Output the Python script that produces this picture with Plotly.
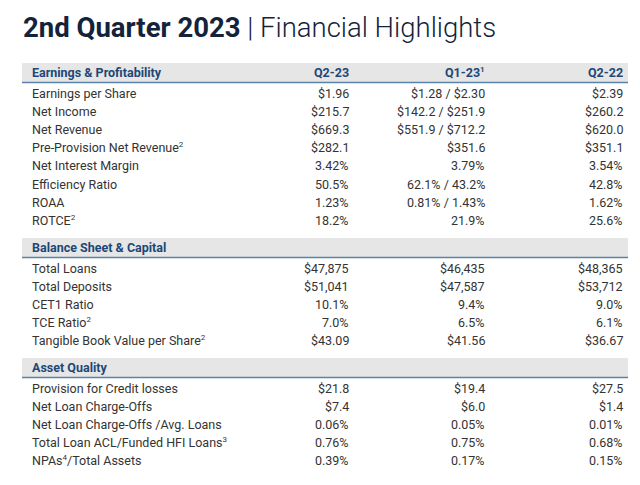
import plotly.graph_objects as go

sections = ["Earnings & Profitability", "Balance Sheet & Capital", "Asset Quality"]
column_headers = ["Q2-23", "Q1-23<sup>1</sup>", "Q2-22"]

labels_1 = ["Earnings per Share", "Net Income", "Net Revenue",
            "Pre-Provision Net Revenue<sup>2</sup>", "Net Interest Margin",
            "Efficiency Ratio", "ROAA", "ROTCE<sup>2</sup>"]
q2_23_1 = ["$1.96", "$215.7", "$669.3", "$282.1", "3.42%", "50.5%", "1.23%", "18.2%"]
q1_23_1 = ["$1.28 / $2.30", "$142.2 / $251.9", "$551.9 / $712.2", "$351.6", "3.79%",
           "62.1% / 43.2%", "0.81% / 1.43%", "21.9%"]
q2_22_1 = ["$2.39", "$260.2", "$620.0", "$351.1", "3.54%", "42.8%", "1.62%", "25.6%"]

labels_2 = ["Total Loans", "Total Deposits", "CET1 Ratio", "TCE Ratio<sup>2</sup>",
            "Tangible Book Value per Share<sup>2</sup>"]
q2_23_2 = ["$47,875", "$51,041", "10.1%", "7.0%", "$43.09"]
q1_23_2 = ["$46,435", "$47,587", "9.4%", "6.5%", "$41.56"]
q2_22_2 = ["$48,365", "$53,712", "9.0%", "6.1%", "$36.67"]

labels_3 = ["Provision for Credit losses", "Net Loan Charge-Offs",
            "Net Loan Charge-Offs /Avg. Loans", "Total Loan ACL/Funded HFI Loans<sup>3</sup>",
            "NPAs<sup>4</sup>/Total Assets"]
q2_23_3 = ["$21.8", "$7.4", "0.06%", "0.76%", "0.39%"]
q1_23_3 = ["$19.4", "$6.0", "0.05%", "0.75%", "0.17%"]
q2_22_3 = ["$27.5", "$1.4", "0.01%", "0.68%", "0.15%"]

blocks = [
    (labels_1, q2_23_1, q1_23_1, q2_22_1),
    (labels_2, q2_23_2, q1_23_2, q2_22_2),
    (labels_3, q2_23_3, q1_23_3, q2_22_3),
]

FONT = "Roboto"
TXT = "#333333"
HDR = "#1d4877"
BAND = "#e6e6e6"
LINE = "#5b82a8"

W, H = 640, 485
left, right = 22, 628
label_x = 30
col_right = [351, 487, 625]
header_tops = [63, 238, 358]
header_h = 19
step = 18.2
FS = 12.5


def small_sup(t):
    return t.replace("<sup>", "<sup><span style='font-size:8px'>").replace("</sup>", "</span></sup>")


fig = go.Figure()
fig.add_trace(go.Scatter(x=[0], y=[0], mode="markers", marker=dict(opacity=0),
                         hoverinfo="skip", showlegend=False))

shapes = []
annotations = []

for si, (labs, c1, c2, c3) in enumerate(blocks):
    top = header_tops[si]
    bot = top + header_h
    shapes.append(dict(type="rect", xref="x", yref="y", x0=left, x1=right, y0=top, y1=bot,
                       fillcolor=BAND, line=dict(width=0), layer="below"))
    shapes.append(dict(type="line", xref="x", yref="y", x0=left, x1=right, y0=bot + 0.5, y1=bot + 0.5,
                       line=dict(color=LINE, width=1.5)))
    hy = top + header_h / 2
    annotations.append(dict(x=label_x, y=hy, xref="x", yref="y", text="<b>" + sections[si] + "</b>",
                            showarrow=False, xanchor="left", yanchor="middle",
                            font=dict(family=FONT, size=FS, color=HDR)))
    if si == 0:
        for ci, ch in enumerate(column_headers):
            annotations.append(dict(x=col_right[ci], y=hy, xref="x", yref="y",
                                    text="<b>" + small_sup(ch) + "</b>",
                                    showarrow=False, xanchor="right", yanchor="middle",
                                    font=dict(family=FONT, size=FS, color=HDR)))
    for ri, lab in enumerate(labs):
        y = bot + 11 + ri * step
        annotations.append(dict(x=label_x, y=y, xref="x", yref="y", text=small_sup(lab), showarrow=False,
                                xanchor="left", yanchor="middle",
                                font=dict(family=FONT, size=FS, color=TXT)))
        for ci, col in enumerate((c1, c2, c3)):
            annotations.append(dict(x=col_right[ci], y=y, xref="x", yref="y", text=col[ri],
                                    showarrow=False, xanchor="right", yanchor="middle",
                                    font=dict(family=FONT, size=FS, color=TXT)))

annotations.append(dict(x=21, y=27, xref="x", yref="y",
                        text="<b>2nd Quarter 2023</b><span style='font-weight:300'> | Financial Highlights</span>",
                        showarrow=False, xanchor="left", yanchor="middle",
                        font=dict(family=FONT, size=27.5, color="#13233b")))

fig.update_layout(
    width=W, height=H, margin=dict(l=0, r=0, t=0, b=0),
    paper_bgcolor="white", plot_bgcolor="white",
    xaxis=dict(range=[0, W], visible=False, fixedrange=True),
    yaxis=dict(range=[H, 0], visible=False, fixedrange=True),
    shapes=shapes, annotations=annotations,
)
fig.write_html("out.html", config={"displayModeBar": False},
               post_script="document.body.style.margin='0';document.body.style.overflow='hidden';")
